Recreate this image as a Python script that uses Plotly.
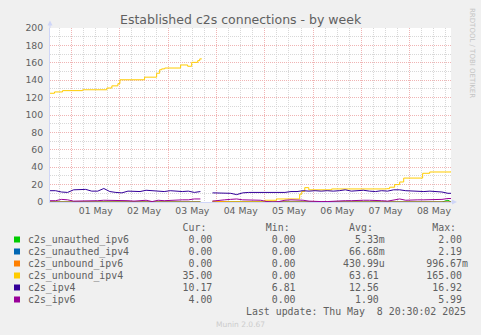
import plotly.graph_objects as go
import pandas as pd

# ---------------- data ----------------
# Sample times (3-hourly) for the noisy series; None = data gap
t_samples = ["04-30 13:00","04-30 16:00","04-30 19:00","04-30 22:00",
             "05-01 01:00","05-01 04:00","05-01 07:00","05-01 10:00","05-01 13:00","05-01 16:00","05-01 19:00","05-01 22:00",
             "05-02 01:00","05-02 04:00","05-02 07:00","05-02 10:00","05-02 13:00","05-02 16:00","05-02 19:00","05-02 22:00",
             "05-03 01:00","05-03 04:00","05-03 07:00","05-03 10:00","05-03 13:00","05-03 16:00","05-03 19:00","05-03 22:00",
             "05-04 01:00","05-04 04:00","05-04 07:00","05-04 10:00","05-04 13:00","05-04 16:00","05-04 19:00","05-04 22:00",
             "05-05 01:00","05-05 04:00","05-05 07:00","05-05 10:00","05-05 13:00","05-05 16:00","05-05 19:00","05-05 22:00",
             "05-06 01:00","05-06 04:00","05-06 07:00","05-06 10:00","05-06 13:00","05-06 16:00","05-06 19:00","05-06 22:00",
             "05-07 01:00","05-07 04:00","05-07 07:00","05-07 10:00","05-07 13:00","05-07 16:00","05-07 19:00","05-07 22:00",
             "05-08 01:00","05-08 04:00","05-08 07:00","05-08 10:00","05-08 13:00","05-08 16:00","05-08 19:00","05-08 20:30"]

c2s_ipv4 = [13, 13, 11.5, 11, 14, 14, 14.5, 12.5, 12.5, 15.5, 12, 11,
            10.5, 12.5, 12.5, 12, 13.5, 13, 12.5, 12,
            13, 12.5, 12, 12.5, 11, 12, None, 10.5,
            10.5, 10.5, 10, 8.5, 10.5, 11, 11, 11.5,
            11, 11, 11.5, 11, 12, 12, 13, 12.5,
            13, 12.5, 13, 12.5, 13, 14, 12.5, 13,
            13.5, 12.5, 12, 13, 12.5, 14, 14, 13,
            12.5, 12.5, 12, 12.5, 12, 11.5, 10, 10]

c2s_ipv6 = [1.5, 1.5, 3, 2.5, 1, 1, 1, 1, 1.5, 2, 2, 1.5,
            1.5, 1.5, 1, 1.5, 2, 0.5, 2, 1.5,
            2, 2, 2.5, 2.5, 3.5, 3.5, None, 1,
            2, 2.5, 3, 3.5, 2.5, 2.5, 2.5, 2,
            0.5, 0, 0.5, 2, 2.5, 2.5, 2, 1,
            0.5, 0.5, 0.5, 1, 1.5, 1.5, 1.5, 2,
            2, 2, 2, 1.5, 1, 2.5, 3.5, 2,
            2.5, 2.5, 2.5, 2.5, 3, 3, 4, 4]

c2s_unauthed_ipv6 = [0]*26 + [None] + [0]*39 + [2, 0]
c2s_unauthed_ipv4 = [0]*26 + [None] + [0]*41
c2s_unbound_ipv6 = [0]*26 + [None] + [1, 0.5] + [0]*39

# step series: times where value changes
t_unbound_ipv4 = ["04-30 13:16","04-30 15:30","04-30 19:30","05-01 05:30","05-01 17:30","05-01 20:00",
                  "05-01 23:00","05-02 00:00","05-02 12:15","05-02 18:15","05-02 19:45","05-02 20:45",
                  "05-02 22:15","05-03 06:10","05-03 09:40","05-03 11:40","05-03 14:40","05-03 15:40",
                  "05-03 16:40","05-03 16:50",
                  "05-03 22:00","05-04 23:55","05-05 05:50","05-05 17:20","05-05 18:20","05-05 19:50",
                  "05-05 21:50","05-06 09:10","05-07 12:30","05-07 14:00","05-07 16:30","05-07 19:00",
                  "05-07 21:00","05-08 06:25","05-08 09:55","05-08 20:30"]
c2s_unbound_ipv4 = [125, 126.5, 128, 129, 131, 133.5,
                    136, 140.5, 143.5, 148, 152, 153,
                    154, 157.5, 156, 160.5, 162.5, 164.5,
                    164.5, None,
                    0, 2, 3.5, 9, 12, 16.5,
                    14, 15, 15.3, 17, 20, 23,
                    27.5, 33, 34.5, 35]

series_names = ["c2s_unauthed_ipv6","c2s_unauthed_ipv4","c2s_unbound_ipv6",
                "c2s_unbound_ipv4","c2s_ipv4","c2s_ipv6"]
series_colors = ["#00CC00","#0066B3","#FF8000","#FFCC00","#330099","#990099"]
cur_vals = ["0.00","0.00","0.00","35.00","10.17","4.00"]
min_vals = ["0.00","0.00","0.00","0.00","6.81","0.00"]
avg_vals = ["5.33m","66.68m","430.99u","63.61","12.56","1.90"]
max_vals = ["2.00","2.19","996.67m","165.00","16.92","5.99"]

title_text = "Established c2s connections - by week"
last_update = "Last update: Thu May  8 20:30:02 2025"
y_ticks = [0, 20, 40, 60, 80, 100, 120, 140, 160, 180, 200]
x_start, x_end = "2025-04-30 13:16", "2025-05-08 20:30"

# ---------------- figure ----------------
W, H = 481, 335
L, R, T, B = 50, 30, 28, 133
PW, PH = W - L - R, H - T - B

def px(x):
    return (x - L) / PW

def py(y):
    return 1 - (y - T) / PH

def to_dt(lst):
    return pd.to_datetime(["2025-" + s for s in lst])

ts = to_dt(t_samples)
fig = go.Figure()
sample_series = {"c2s_unauthed_ipv6": c2s_unauthed_ipv6, "c2s_unauthed_ipv4": c2s_unauthed_ipv4,
                 "c2s_unbound_ipv6": c2s_unbound_ipv6, "c2s_ipv4": c2s_ipv4, "c2s_ipv6": c2s_ipv6}
for name, col in zip(series_names, series_colors):
    if name == "c2s_unbound_ipv4":
        fig.add_trace(go.Scatter(x=to_dt(t_unbound_ipv4), y=c2s_unbound_ipv4, mode="lines",
                                 line=dict(color=col, width=1, shape="hv"), connectgaps=False))
    else:
        fig.add_trace(go.Scatter(x=ts, y=sample_series[name], mode="lines",
                                 line=dict(color=col, width=1), connectgaps=False))

FONT = "DejaVu Sans"
MONO = "DejaVu Sans Mono"
TXT = "#606060"
AX = "#CFD6F8"
MGRID = "#F0B4B4"
GRID = "#D8D8D8"

fig.update_layout(
    width=W, height=H, margin=dict(l=L, r=R, t=T, b=B, pad=0),
    paper_bgcolor="#F0F0F0", plot_bgcolor="#FFFFFF", showlegend=False,
    font=dict(family=FONT, size=9.3, color=TXT),
)
fig.update_xaxes(
    type="date", range=[x_start, x_end], tick0="2025-05-01", dtick=86400000,
    ticklabelmode="period", tickformat="%d %b", ticks="",
    showgrid=True, gridcolor=MGRID, griddash="1px,1px", gridwidth=1,
    minor=dict(dtick=21600000, tick0="2025-05-01", showgrid=True, gridcolor=GRID,
               griddash="1px,1px", gridwidth=1),
    showline=True, linecolor=AX, linewidth=1, zeroline=False,
    tickfont=dict(family=FONT, size=9.3, color=TXT),
)
fig.update_yaxes(
    range=[0, 200], tickvals=y_ticks, ticks="", ticklabelstandoff=4,
    showgrid=True, gridcolor=MGRID, griddash="1px,1px", gridwidth=1,
    minor=dict(dtick=10, showgrid=True, gridcolor=GRID, griddash="1px,1px", gridwidth=1),
    showline=True, linecolor=AX, linewidth=1, zeroline=False,
    tickfont=dict(family=FONT, size=9.3, color=TXT),
)

shapes = []
# axis extensions and arrows
shapes.append(dict(type="line", xref="paper", yref="paper", x0=px(50), x1=px(50), y0=py(28), y1=py(24),
                   line=dict(color=AX, width=1)))
shapes.append(dict(type="path", xref="paper", yref="paper",
                   path=f"M {px(47.5)},{py(25.5)} L {px(52.5)},{py(25.5)} L {px(50)},{py(20.5)} Z",
                   fillcolor=AX, line=dict(color=AX, width=0)))
shapes.append(dict(type="line", xref="paper", yref="paper", x0=px(451), x1=px(453), y0=py(202), y1=py(202),
                   line=dict(color=AX, width=1)))
shapes.append(dict(type="path", xref="paper", yref="paper",
                   path=f"M {px(452)},{py(199.5)} L {px(452)},{py(204.5)} L {px(457)},{py(202)} Z",
                   fillcolor=AX, line=dict(color=AX, width=0)))

ann = []
ann.append(dict(text=title_text, x=px(240.5), y=py(19), xref="paper", yref="paper",
                xanchor="center", yanchor="middle", showarrow=False,
                font=dict(family=FONT, size=12.5, color=TXT)))
ann.append(dict(text="RRDTOOL / TOBI OETIKER", x=px(472), y=py(53), xref="paper", yref="paper",
                xanchor="center", yanchor="middle", showarrow=False, textangle=90,
                font=dict(family=FONT, size=7, color="#C4C4C4")))
ann.append(dict(text="Munin 2.0.67", x=px(240), y=py(324.5), xref="paper", yref="paper",
                xanchor="center", yanchor="middle", showarrow=False,
                font=dict(family=FONT, size=7.5, color="#CCCCCC")))

NB = "\u00a0"
def fld(s):
    s = s if s[-1].isalpha() else s + " "
    return s.rjust(7)

header = " " * 26 + "Cur:" + " " * 10 + "Min:" + " " * 10 + "Avg:" + " " * 10 + "Max:"
ann.append(dict(text=header.replace(" ", NB), x=px(26), y=py(227.5), xref="paper", yref="paper",
                xanchor="left", yanchor="middle", showarrow=False,
                font=dict(family=MONO, size=9.9, color=TXT)))
row_y = [239.5, 251.5, 263.5, 275.5, 287.5, 299.5]
for i, name in enumerate(series_names):
    row = name.ljust(25) + fld(cur_vals[i]) + " " * 7 + fld(min_vals[i]) + " " * 7 + \
          fld(avg_vals[i]) + " " * 7 + fld(max_vals[i])
    ann.append(dict(text=row.replace(" ", NB), x=px(26), y=py(row_y[i]), xref="paper", yref="paper",
                    xanchor="left", yanchor="middle", showarrow=False,
                    font=dict(family=MONO, size=9.9, color=TXT)))
    shapes.append(dict(type="rect", xref="paper", yref="paper", x0=px(14), x1=px(20),
                       y0=py(row_y[i] - 3), y1=py(row_y[i] + 3),
                       fillcolor=series_colors[i], line=dict(width=0)))
ann.append(dict(text=last_update.replace(" ", NB), x=px(468), y=py(311.5), xref="paper", yref="paper",
                xanchor="right", yanchor="middle", showarrow=False,
                font=dict(family=MONO, size=9.9, color=TXT)))

fig.update_layout(shapes=shapes, annotations=ann)
fig.write_html("out.html")
